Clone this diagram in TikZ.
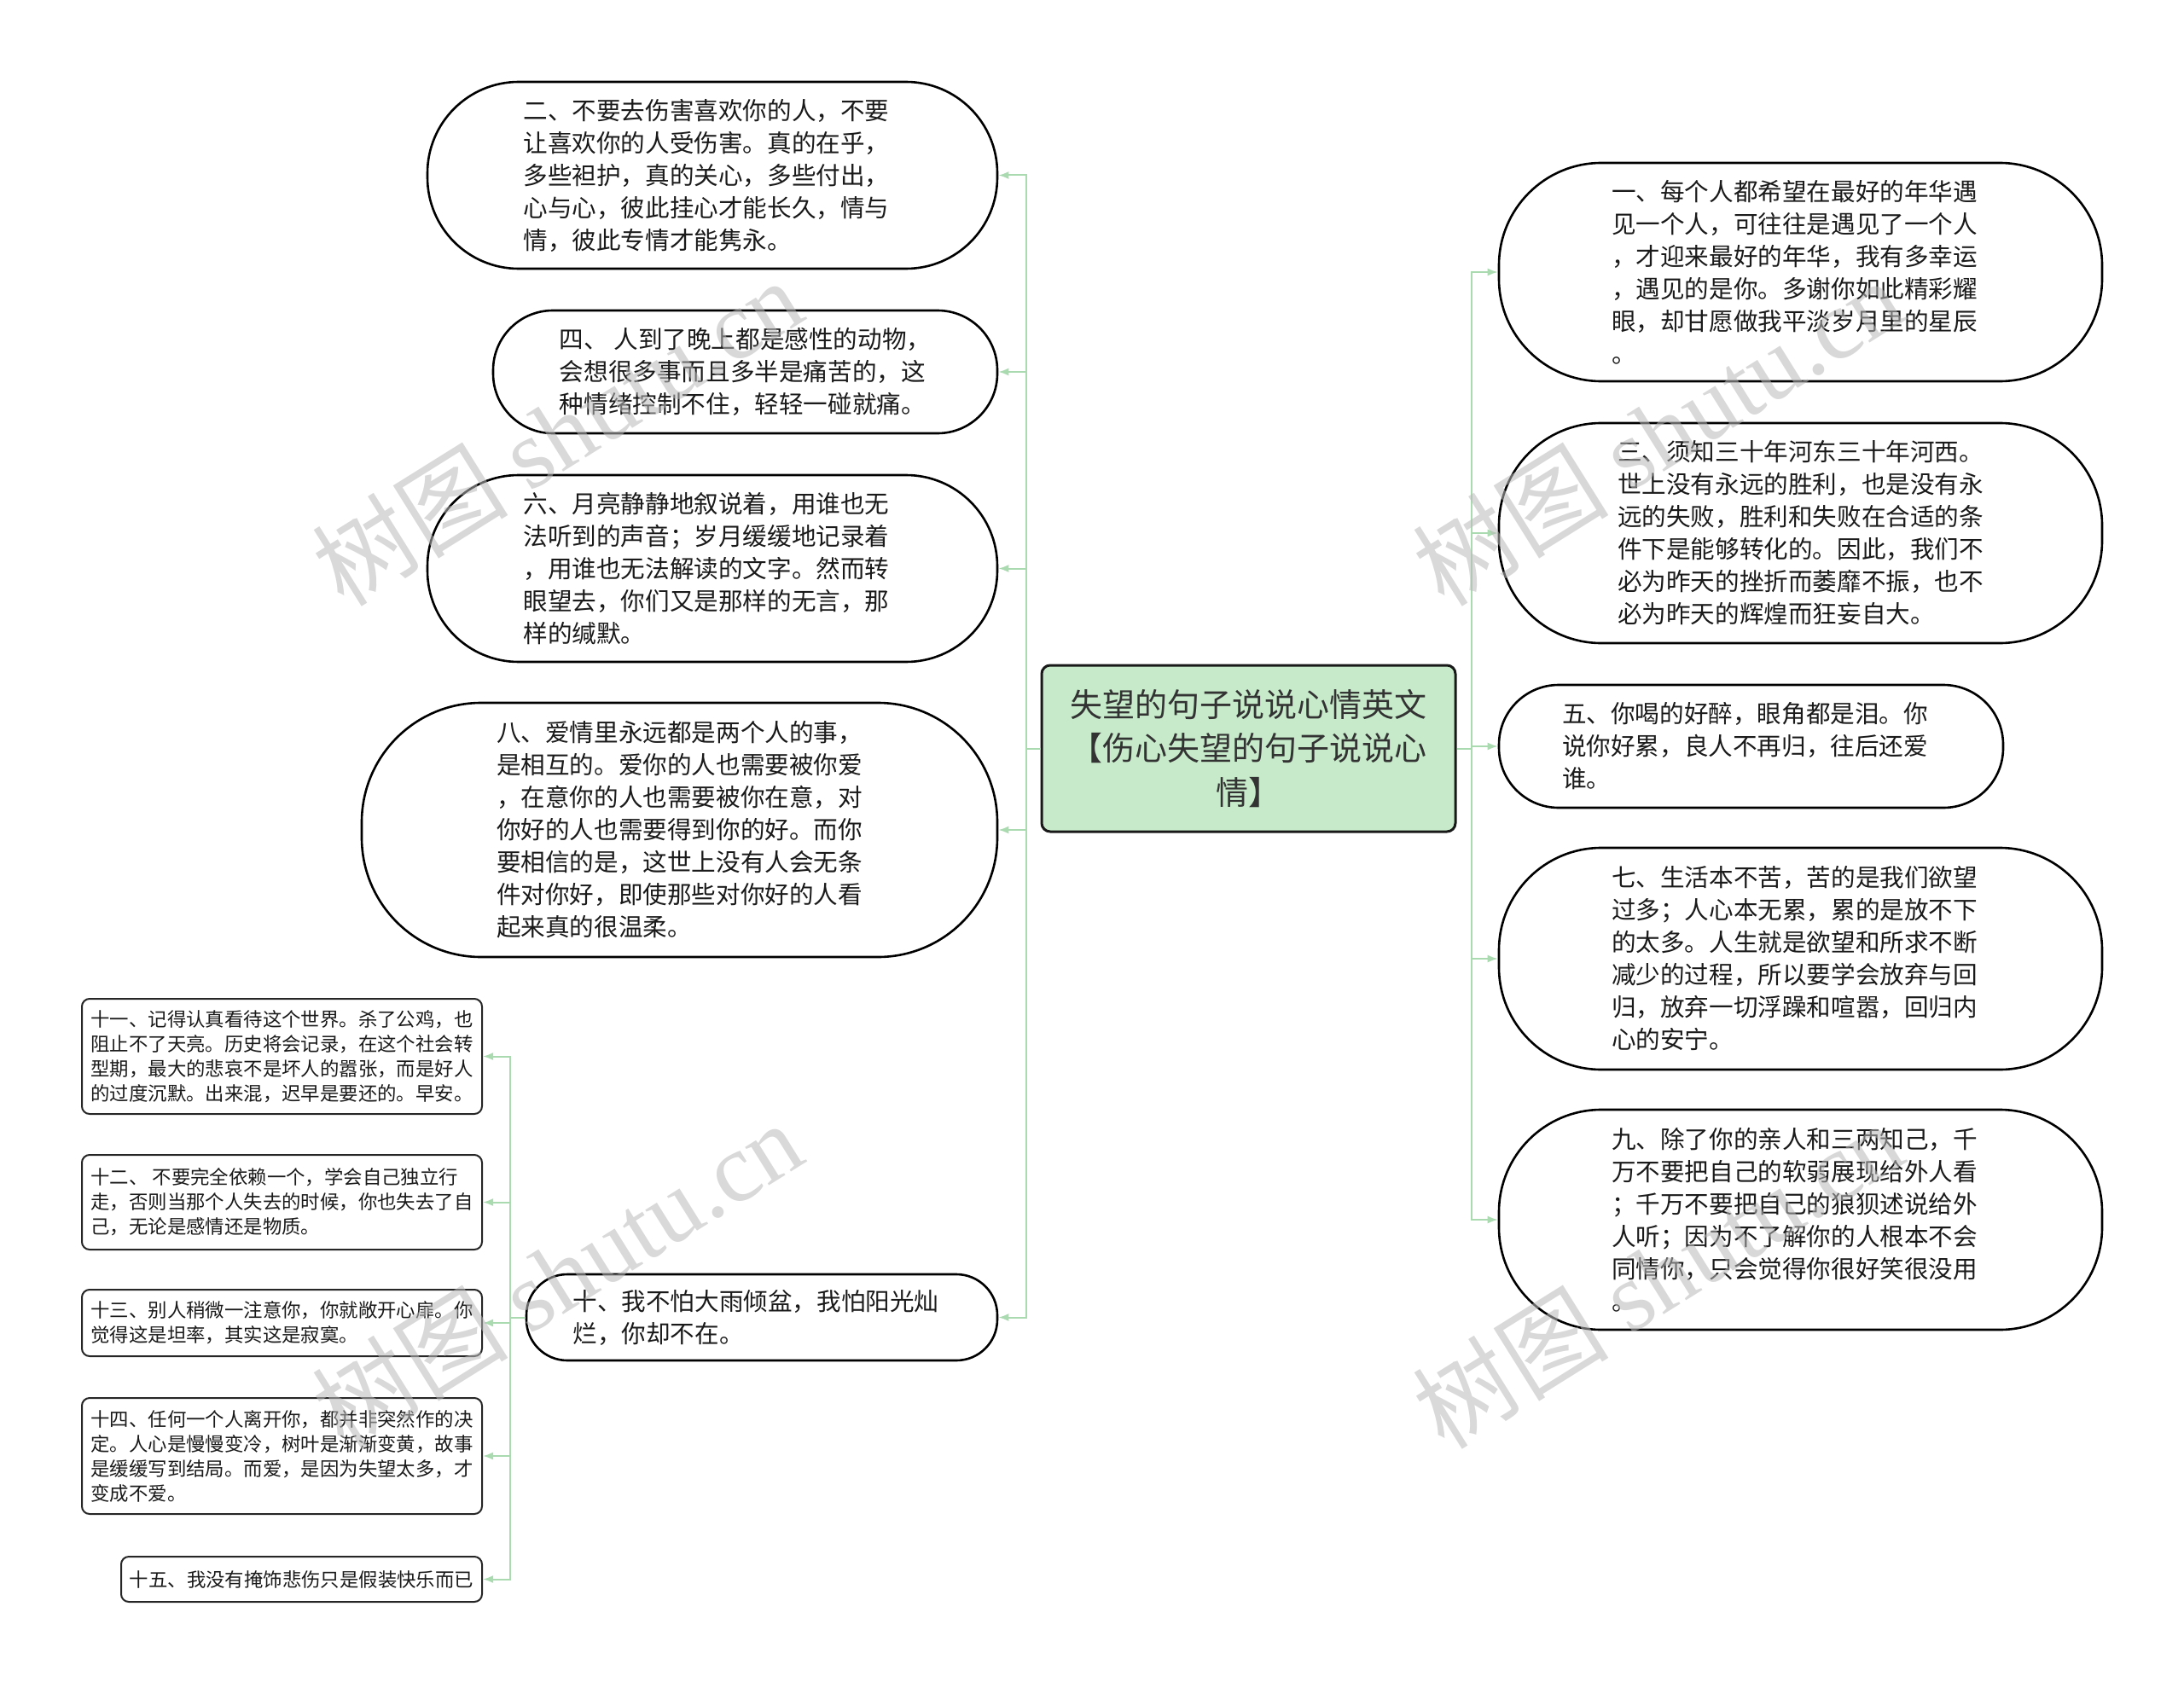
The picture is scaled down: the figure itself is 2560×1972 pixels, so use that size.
\documentclass[tikz,border=0pt]{standalone}
\usepackage{fontspec}
\setmainfont{Noto Sans CJK SC}
\newfontfamily\wmlatin{Liberation Serif}
\usetikzlibrary{arrows.meta}
\definecolor{connc}{RGB}{170,218,176}
\definecolor{titlefill}{RGB}{199,235,202}
\definecolor{txt}{RGB}{26,26,26}
\definecolor{wmc}{RGB}{185,185,185}
\newcommand{\padr}{\hspace*{14pt}}
\tikzset{
  stad/.style={draw=black, line width=2.6pt, fill=white, align=left, text=txt, inner sep=0pt,
    font=\fontsize{28.6}{38}\selectfont},
  smallbox/.style={draw=black!85, line width=2pt, fill=white, align=left, text=txt, inner sep=0pt,
    rounded corners=9pt, font=\fontsize{22.4}{29}\selectfont},
  titlebox/.style={draw=black!90, line width=3pt, fill=titlefill, align=center, text=black!80,
    rounded corners=10pt, inner sep=0pt, font=\fontsize{38}{51.5}\selectfont},
  conn/.style={draw=connc, line width=2pt, -{Latex[length=12pt,width=9pt]}},
  wm/.style={text=wmc, opacity=0.55, font=\fontsize{115}{120}\selectfont, rotate=32}
}
\begin{document}
\begin{tikzpicture}[x=1pt,y=-1pt]
\useasboundingbox (0,0) rectangle (2560,1972);
% centre
\node[titlebox, minimum width=485pt, minimum height=195pt] (c) at (1463.5,877.5)
  {失望的句子说说心情英文\\【伤心失望的句子说说心\\情】};
% left stadiums
\node[stad, minimum width=668pt, minimum height=219pt, rounded corners=107pt] (n2) at (835,205.5)
  {二、不要去伤害喜欢你的人，不要\padr\\让喜欢你的人受伤害。真的在乎，\\多些袒护，真的关心，多些付出，\\心与心，彼此挂心才能长久，情与\\情，彼此专情才能隽永。};
\node[stad, minimum width=591pt, minimum height=144pt, rounded corners=70pt] (n4) at (873.5,436)
  {四、\ 人到了晚上都是感性的动物，\\会想很多事而且多半是痛苦的，这\padr\\种情绪控制不住，轻轻一碰就痛。};
\node[stad, minimum width=668pt, minimum height=219pt, rounded corners=107pt] (n6) at (835,666.5)
  {六、月亮静静地叙说着，用谁也无\padr\\法听到的声音；岁月缓缓地记录着\\，用谁也无法解读的文字。然而转\\眼望去，你们又是那样的无言，那\\样的缄默。};
\node[stad, minimum width=745pt, minimum height=298pt, rounded corners=140pt] (n8) at (796.5,973)
  {八、爱情里永远都是两个人的事，\\是相互的。爱你的人也需要被你爱\padr\\，在意你的人也需要被你在意，对\\你好的人也需要得到你的好。而你\\要相信的是，这世上没有人会无条\\件对你好，即使那些对你好的人看\\起来真的很温柔。};
\node[stad, minimum width=552pt, minimum height=101pt, rounded corners=48pt] (n10) at (893,1544.5)
  {十、我不怕大雨倾盆，我怕阳光灿\padr\\烂，你却不在。};
% right stadiums
\node[stad, minimum width=707pt, minimum height=256pt, rounded corners=120pt] (n1) at (2110.5,319)
  {一、每个人都希望在最好的年华遇\padr\\见一个人，可往往是遇见了一个人\\，才迎来最好的年华，我有多幸运\\，遇见的是你。多谢你如此精彩耀\\眼，却甘愿做我平淡岁月里的星辰\\。};
\node[stad, minimum width=707pt, minimum height=258pt, rounded corners=120pt] (n3) at (2110.5,625)
  {三、须知三十年河东三十年河西。\\世上没有永远的胜利，也是没有永\padr\\远的失败，胜利和失败在合适的条\\件下是能够转化的。因此，我们不\\必为昨天的挫折而萎靡不振，也不\\必为昨天的辉煌而狂妄自大。};
\node[stad, minimum width=591pt, minimum height=144pt, rounded corners=70pt] (n5) at (2052.5,875)
  {五、你喝的好醉，眼角都是泪。你\padr\\说你好累，良人不再归，往后还爱\\谁。};
\node[stad, minimum width=707pt, minimum height=260pt, rounded corners=120pt] (n7) at (2110.5,1124)
  {七、生活本不苦，苦的是我们欲望\padr\\过多；人心本无累，累的是放不下\\的太多。人生就是欲望和所求不断\\减少的过程，所以要学会放弃与回\\归，放弃一切浮躁和喧嚣，回归内\\心的安宁。};
\node[stad, minimum width=707pt, minimum height=258pt, rounded corners=120pt] (n9) at (2110.5,1430)
  {九、除了你的亲人和三两知己，千\padr\\万不要把自己的软弱展现给外人看\\；千万不要把自己的狼狈述说给外\\人听；因为不了解你的人根本不会\\同情你，只会觉得你很好笑很没用\\。};
% small boxes
\node[smallbox, minimum width=469pt, minimum height=135pt] (n11) at (330.5,1238.5)
  {十一、记得认真看待这个世界。杀了公鸡，也\\阻止不了天亮。历史将会记录，在这个社会转\\型期，最大的悲哀不是坏人的嚣张，而是好人\\的过度沉默。出来混，迟早是要还的。早安。};
\node[smallbox, minimum width=469pt, minimum height=111pt] (n12) at (330.5,1409.5)
  {十二、\ 不要完全依赖一个，学会自己独立行\\走，否则当那个人失去的时候，你也失去了自\\己，无论是感情还是物质。};
\node[smallbox, minimum width=469pt, minimum height=78pt] (n13) at (330.5,1551)
  {十三、别人稍微一注意你，你就敞开心扉。你\\觉得这是坦率，其实这是寂寞。};
\node[smallbox, minimum width=469pt, minimum height=136pt] (n14) at (330.5,1707)
  {十四、任何一个人离开你，都并非突然作的决\\定。人心是慢慢变冷，树叶是渐渐变黄，故事\\是缓缓写到结局。而爱，是因为失望太多，才\\变成不爱。};
\node[smallbox, minimum width=423pt, minimum height=53pt] (n15) at (353.5,1851.5)
  {十五、我没有掩饰悲伤只是假装快乐而已};
% connectors
\coordinate (tl) at (1203,877.5);
\coordinate (tr) at (1725,877.5);
\coordinate (tt) at (598,1544.5);
\draw[connc, line width=2pt] (c.west) -- (tl);
\draw[connc, line width=2pt] (c.east) -- (tr);
\draw[connc, line width=2pt] (n10.west) -- (tt);
\foreach \n in {n2,n4,n6,n8,n10} \draw[conn] (tl) |- (\n.east);
\foreach \n in {n1,n3,n5,n7,n9} \draw[conn] (tr) |- (\n.west);
\foreach \n in {n11,n12,n13,n14,n15} \draw[conn] (tt) |- (\n.east);
% watermarks
\node[wm] (w1) at (653,506) {树图 {\wmlatin shutu.cn}};
\node[wm] (w2) at (1943,506) {树图 {\wmlatin shutu.cn}};
\node[wm] (w3) at (653,1494) {树图 {\wmlatin shutu.cn}};
\node[wm] (w4) at (1943,1494) {树图 {\wmlatin shutu.cn}};
\end{tikzpicture}
\end{document}
